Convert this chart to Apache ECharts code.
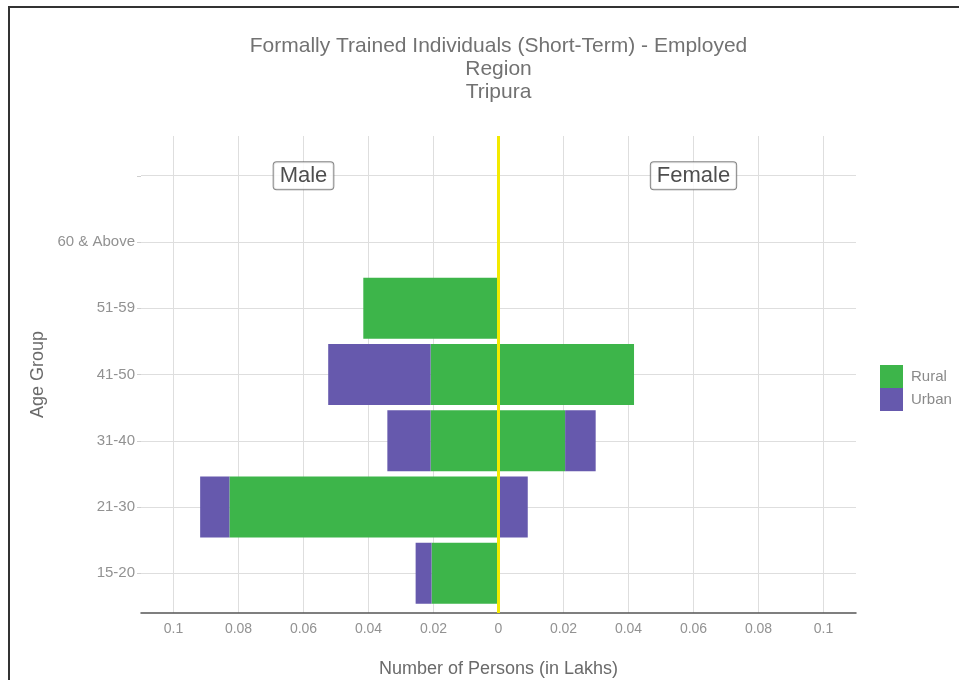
<!DOCTYPE html>
<html><head><meta charset="utf-8">
<script src="https://cdn.jsdelivr.net/npm/echarts@6/dist/echarts.min.js"></script>
<style>html,body{margin:0;padding:0;background:#fff}#c{width:959px;height:680px}</style>
</head><body><div id="c"></div>
<script>
// ---- data ----
const ageGroups = ['15-20', '21-30', '31-40', '41-50', '51-59', '60 & Above', ''];
const maleRural   = [0.0206, 0.0828, 0.0209, 0.0209, 0.0416, 0, 0];
const maleUrban   = [0.0049, 0.0090, 0.0133, 0.0315, 0, 0, 0];
const femaleRural = [0, 0, 0.0205, 0.0417, 0, 0, 0];
const femaleUrban = [0, 0.0090, 0.0094, 0, 0, 0, 0];
const genderLabels = ['Male', 'Female'];
const genderLabelX = [-0.06, 0.06];
const genderLabelRow = 7;
const titleLines = ['Formally Trained Individuals (Short-Term) - Employed', 'Region', 'Tripura'];
const legendNames = ['Rural', 'Urban'];
const xMin = -0.11, xMax = 0.11;

const FONT = '"Liberation Sans", Arial, sans-serif';
const GREEN = '#3db54a', PURPLE = '#6659ad';
// zero values are drawn as empty ('-') so that no zero-width bar is rendered
const prep = (a, sign) => a.map(v => (v === 0 ? '-' : sign * v));

const chart = echarts.init(document.getElementById('c'), null, {renderer: 'canvas'});
const gridLeft = 141, gridWidth = 715, outerTop = 136, outerH = 477;
const band = outerH / 7.2;

const barSeries = (name, data, color) => ({
  type: 'bar', name, data, stack: 'pyr', xAxisIndex: 0, yAxisIndex: 0,
  barWidth: 61, itemStyle: {color}, silent: true
});

chart.setOption({
  backgroundColor: '#ffffff',
  animation: false,
  textStyle: {fontFamily: FONT},
  title: {
    text: titleLines.join('\n'),
    left: 498.5, top: 35, textAlign: 'center', padding: 0,
    textStyle: {fontSize: 21, fontWeight: 'normal', color: '#727272', lineHeight: 23, fontFamily: FONT}
  },
  legend: {
    data: legendNames, orient: 'vertical', left: 880, top: 365, padding: 0,
    itemWidth: 23, itemHeight: 23, itemGap: 0, icon: 'rect',
    textStyle: {fontSize: 15, color: '#8a8a8a', fontFamily: FONT, padding: [0, 0, 0, 3]}
  },
  grid: [
    {left: gridLeft, width: gridWidth, top: outerTop + 0.1 * band, height: 7 * band, outerBoundsMode: 'none', containLabel: false},
    {left: gridLeft, width: gridWidth, top: outerTop, height: outerH, outerBoundsMode: 'none', containLabel: false}
  ],
  xAxis: [
    {type: 'value', gridIndex: 0, min: xMin, max: xMax, show: false},
    {type: 'value', gridIndex: 1, min: xMin, max: xMax, splitNumber: 11, minInterval: 0.02, maxInterval: 0.02,
     axisLine: {show: true, onZero: false, lineStyle: {color: '#555', width: 1.5}},
     axisTick: {show: false},
     axisLabel: {showMinLabel: false, showMaxLabel: false, margin: 9, fontSize: 14, color: '#929292', fontFamily: FONT,
       formatter: v => String(+Math.abs(v).toFixed(2))},
     splitLine: {show: true, showMinLine: false, showMaxLine: false, lineStyle: {color: '#dedede', width: 1}},
     name: 'Number of Persons (in Lakhs)', nameLocation: 'middle', nameGap: 47,
     nameTextStyle: {fontSize: 18, color: '#6a6a6a', fontFamily: FONT}}
  ],
  yAxis: [
    {type: 'category', gridIndex: 0, data: ageGroups,
     axisLine: {show: false, onZero: false},
     axisTick: {show: true, alignWithLabel: true, length: 4, lineStyle: {color: '#cfcfcf'}},
     axisLabel: {margin: 6, fontSize: 15, color: '#929292', fontFamily: FONT},
     splitLine: {show: false}},
    {type: 'value', gridIndex: 1, min: 0.4, max: 7.6, splitNumber: 7, minInterval: 1, maxInterval: 1,
     axisLine: {show: false, onZero: false}, axisTick: {show: false}, axisLabel: {show: false},
     splitLine: {show: true, showMinLine: false, showMaxLine: false, lineStyle: {color: '#dedede', width: 1}},
     name: 'Age Group', nameLocation: 'middle', nameRotate: 90, nameGap: 94,
     nameTextStyle: {fontSize: 18, color: '#6a6a6a', fontFamily: FONT}}
  ],
  series: [
    barSeries('Rural', prep(maleRural, -1), GREEN),
    barSeries('Urban', prep(maleUrban, -1), PURPLE),
    barSeries('Rural', prep(femaleRural, 1), GREEN),
    barSeries('Urban', prep(femaleUrban, 1), PURPLE),
    {
      type: 'scatter', name: 'labels', xAxisIndex: 1, yAxisIndex: 1, z: 5, silent: true,
      symbolSize: 0,
      data: genderLabels.map((g, i) => ({value: [genderLabelX[i], genderLabelRow], name: g})),
      label: {show: true, position: 'inside', formatter: p => p.name,
        fontSize: 22, color: '#222', fontFamily: FONT, lineHeight: 22,
        backgroundColor: '#ffffff', borderColor: '#666', borderWidth: 1, borderRadius: 3,
        padding: [3, 6, 2, 6]},
      markLine: {silent: true, symbol: ['none', 'none'], label: {show: false},
        lineStyle: {color: '#f3ea00', width: 3, type: 'solid'}, data: [{xAxis: 0}]}
    }
  ],
  graphic: [
    {type: 'rect', shape: {x: 9, y: 7, width: 1000, height: 720},
     style: {fill: 'none', stroke: '#333', lineWidth: 2}, z: 100, silent: true}
  ]
});
</script></body></html>
